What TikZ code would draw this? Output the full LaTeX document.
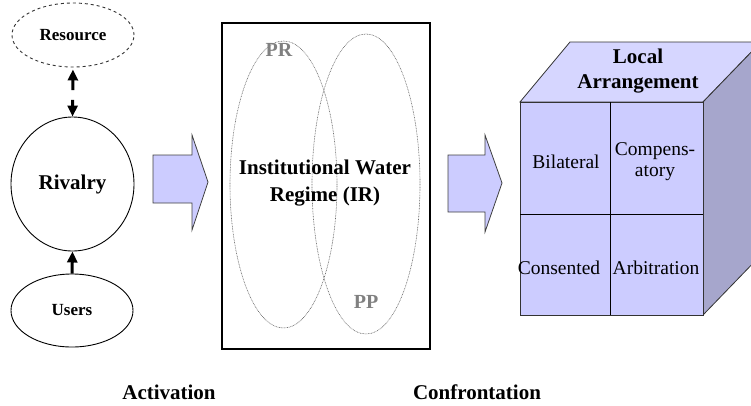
\documentclass[tikz,border=0pt]{standalone}
\usepackage{fontspec}
\setmainfont{Liberation Serif}
\usetikzlibrary{shapes.geometric,arrows.meta}
\definecolor{lav}{HTML}{CCCCFF}
\definecolor{lavtop}{HTML}{D6D6FF}
\definecolor{lavside}{HTML}{A6A6CC}
\definecolor{prgray}{HTML}{808080}
\tikzset{
  oval/.style={ellipse, draw, inner sep=0pt, line width=0.9pt, font=\bfseries\fontsize{17}{20}\selectfont},
  thickarrow/.style={line width=3pt, -{Triangle[length=11pt,width=10pt]}},
  blockarrow/.style={fill=lav, draw=black!75, line width=0.8pt},
  dotell/.style={draw=black!60, line width=0.6pt, dash pattern=on 0.8pt off 0.8pt},
  bigtxt/.style={font=\bfseries\fontsize{21}{27}\selectfont, align=center, inner sep=0pt},
  celltxt/.style={font=\fontsize{19.5}{21}\selectfont, align=center, inner sep=0pt},
  graytxt/.style={font=\bfseries\fontsize{20}{24}\selectfont, text=prgray, inner sep=0pt},
}
\begin{document}
\begin{tikzpicture}[x=1pt,y=-1pt]
\useasboundingbox (0,0) rectangle (751,405);
\clip (0,0) rectangle (751,405);

% left column
\node[oval, dashed, draw=black!80, minimum width=122pt, minimum height=64pt] (res) at (73,35) {Resource};
\node[oval, font=\bfseries\fontsize{21}{24}\selectfont, minimum width=123pt, minimum height=134pt] (riv) at (72.5,184) {Rivalry};
\node[oval, minimum width=122pt, minimum height=73pt] (usr) at (72,310.5) {Users};

\path (res.south) -- (riv.north) coordinate[pos=0.46] (g1) coordinate[pos=0.66] (g2);
\draw[thickarrow, shorten >=2pt] (g1) -- (res.south);
\draw[thickarrow] (g2) -- (riv.north);
\draw[thickarrow] (usr.north) -- (riv.south);

% block arrow 1
\draw[blockarrow] (153,155) -- (192,155) -- (192,135) -- (208,182) -- (192,230) -- (192,203) -- (153,203) -- cycle;

% institutional regime box
\node[draw, line width=2.8pt, minimum width=208pt, minimum height=326pt, inner sep=0pt] (ir) at (326,186) {};
\draw[dotell] (283.5,184.5) ellipse [x radius=53.5, y radius=143.5];
\draw[dotell] (366,184) ellipse [x radius=54, y radius=150];
\node[bigtxt] (irt) at (325,183.5) {Institutional Water\\Regime (IR)};
\node[graytxt] (pr) at (279,50) {PR};
\node[graytxt] (pp) at (366,302) {PP};

% block arrow 2
\draw[blockarrow] (448,155) -- (485,155) -- (485,135) -- (502,183) -- (485,232) -- (485,212) -- (448,212) -- cycle;

% cube
\draw[fill=lavtop, draw=black!80, line width=0.8pt] (520,102) -- (570,42) -- (761,42) -- (703,102) -- cycle;
\draw[fill=lavside, draw=black!80, line width=0.8pt] (703,102) -- (761,42) -- (761,255) -- (703,315) -- cycle;
\draw[fill=lav, draw=black!80, line width=0.8pt] (520,102) rectangle (703,315);
\draw[black, line width=0.8pt] (610,102) -- (610,315);
\draw[black, line width=0.8pt] (520,214) -- (703,214);

\node[bigtxt, font=\bfseries\fontsize{21}{25}\selectfont] (la) at (638,71) {Local\\Arrangement};
\node[celltxt] (c1) at (566,162) {Bilateral};
\node[celltxt] (c2) at (655,162) {Compens-\\atory};
\node[celltxt] (c3) at (559,268) {Consented};
\node[celltxt] (c4) at (656,268) {Arbitration};

% bottom labels
\node[bigtxt] (act) at (169,392) {Activation};
\node[bigtxt] (con) at (477,392) {Confrontation};
\end{tikzpicture}
\end{document}
